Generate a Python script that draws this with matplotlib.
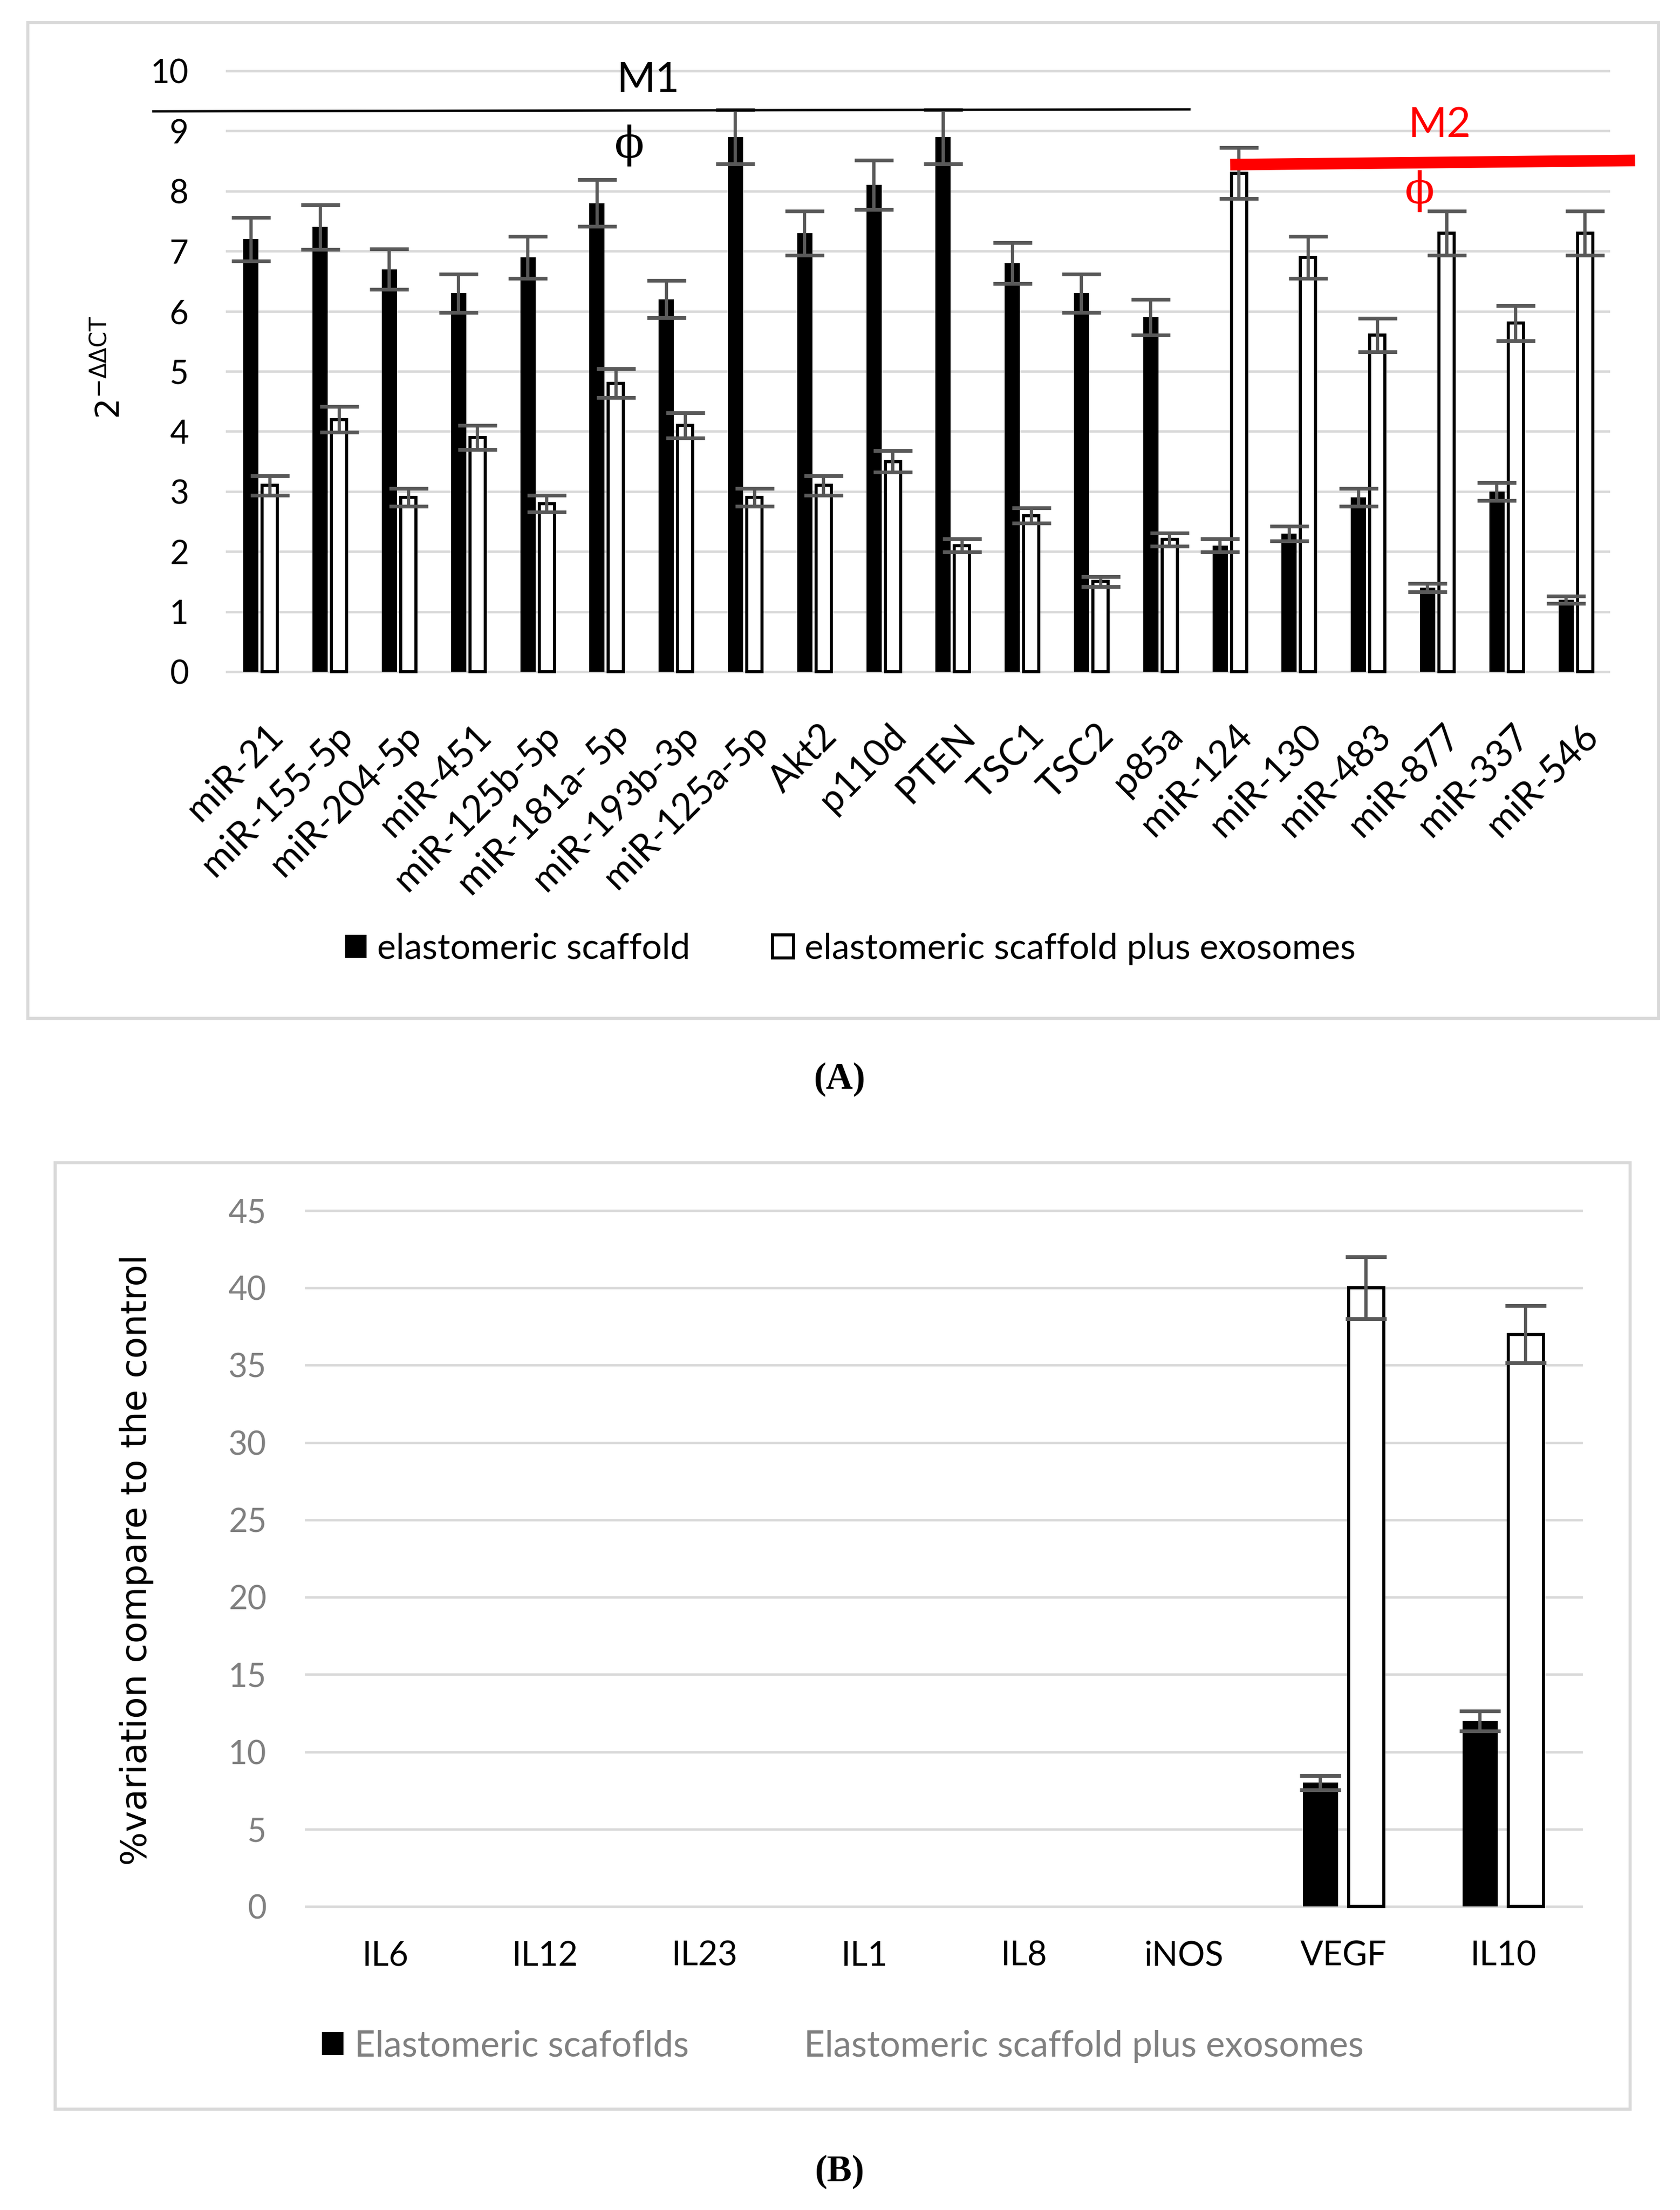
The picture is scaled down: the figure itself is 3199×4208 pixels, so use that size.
import matplotlib
matplotlib.use("Agg")
import matplotlib.pyplot as plt
import numpy as np
from matplotlib.patches import Patch, Rectangle
from matplotlib.transforms import ScaledTranslation

plt.rcParams['font.family'] = ['Lato', 'DejaVu Sans']

# ---------------- data: panel A ----------------
genes_a = ["miR-21", "miR-155-5p", "miR-204-5p", "miR-451", "miR-125b-5p", "miR-181a- 5p",
           "miR-193b-3p", "miR-125a-5p", "Akt2", "p110d", "PTEN", "TSC1", "TSC2", "p85a",
           "miR-124", "miR-130", "miR-483", "miR-877", "miR-337", "miR-546"]
scaffold_a = [7.2, 7.4, 6.7, 6.3, 6.9, 7.8, 6.2, 8.9, 7.3, 8.1, 8.9, 6.8, 6.3, 5.9,
              2.1, 2.3, 2.9, 1.4, 3.0, 1.2]
scaffold_a_err = [0.36, 0.37, 0.34, 0.32, 0.35, 0.39, 0.31, 0.45, 0.37, 0.41, 0.45, 0.34, 0.32, 0.30,
                  0.11, 0.12, 0.15, 0.07, 0.15, 0.06]
exo_a = [3.1, 4.2, 2.9, 3.9, 2.8, 4.8, 4.1, 2.9, 3.1, 3.5, 2.1, 2.6, 1.5, 2.2,
         8.3, 6.9, 5.6, 7.3, 5.8, 7.3]
exo_a_err = [0.16, 0.21, 0.15, 0.20, 0.14, 0.24, 0.21, 0.15, 0.16, 0.18, 0.11, 0.13, 0.08, 0.11,
             0.42, 0.35, 0.28, 0.37, 0.29, 0.37]
legend_a = ["elastomeric scaffold", "elastomeric scaffold plus exosomes"]

# ---------------- data: panel B ----------------
genes_b = ["IL6", "IL12", "IL23", "IL1", "IL8", "iNOS", "VEGF", "IL10"]
scaffold_b = [0, 0, 0, 0, 0, 0, 8.0, 12.0]
scaffold_b_err = [0, 0, 0, 0, 0, 0, 0.45, 0.65]
exo_b = [0, 0, 0, 0, 0, 0, 40.0, 37.0]
exo_b_err = [0, 0, 0, 0, 0, 0, 2.0, 1.85]
legend_b = ["Elastomeric scafoflds", "Elastomeric scaffold plus exosomes"]

W, H = 3199, 4208
fig = plt.figure(figsize=(W / 300, H / 300), dpi=300)

GRID = '#D9D9D9'
ERR = '#595959'

def fx(px):
    return px / W

def fy(py):
    return 1 - py / H

# frames
fig.add_artist(Rectangle((fx(53), fy(1939)), fx(3158) - fx(53), fy(43) - fy(1939),
                         transform=fig.transFigure, fill=False, ec=GRID, lw=1.4))
fig.add_artist(Rectangle((fx(105), fy(4016)), fx(3104) - fx(105), fy(2214) - fy(4016),
                         transform=fig.transFigure, fill=False, ec=GRID, lw=1.4))

# ---------------- panel A ----------------
axA = fig.add_axes([fx(430), fy(1290.4), fx(3066) - fx(430), fy(123.6) - fy(1290.4)])
x = np.arange(len(genes_a))
off, bw = 0.137, 0.22
err_kw = dict(ecolor=ERR, elinewidth=1.5, capsize=8.9, capthick=1.7)
axA.bar(x - off, scaffold_a, bw, color='black', yerr=scaffold_a_err, error_kw=err_kw, zorder=2)
axA.bar(x + off, exo_a, bw, color='white', edgecolor='black', linewidth=1.4,
        yerr=exo_a_err, error_kw=err_kw, zorder=2)
axA.set_xlim(-0.5, len(genes_a) - 0.5)
axA.set_ylim(-0.1, 10.1)
axA.set_yticks(range(0, 11))
axA.yaxis.grid(True, color=GRID, lw=1.1)
axA.set_axisbelow(True)
for s in axA.spines.values():
    s.set_visible(False)
axA.tick_params(axis='both', length=0)
axA.tick_params(axis='y', labelsize=15, pad=17, colors='black')
axA.set_xticks(x)
axA.set_xticklabels(genes_a, rotation=45, ha='right', va='center', rotation_mode='anchor', fontsize=17)
axA.tick_params(axis='x', pad=24)
shift = ScaledTranslation(7.7 / 72, 0, fig.dpi_scale_trans)
for lab in axA.get_xticklabels():
    lab.set_transform(lab.get_transform() + shift)

# M1 annotation
axA.plot([-1.547, 13.42], [9.327, 9.36], color='black', lw=1.1, clip_on=False, zorder=3)
axA.text(5.6, 9.84, "M1", ha='center', va='center', fontsize=19, color='black')
axA.text(5.33, 8.76, "ϕ", ha='center', va='center', fontsize=20, color='black', family=['DejaVu Serif'])
# M2 annotation
axA.plot([14.01, 19.86], [8.44, 8.51], color='#FF0000', lw=5.3, clip_on=False, zorder=3,
         solid_capstyle='butt')
axA.text(17.04, 9.09, "M2", ha='center', va='center', fontsize=19, color='#FF0000')
axA.text(16.75, 8.0, "ϕ", ha='center', va='center', fontsize=20, color='#FF0000', family=['DejaVu Serif'])

fig.text(fx(209), fy(700), r'$2^{-\Delta\Delta \mathrm{CT}}$', rotation=90, ha='center', va='center',
         fontsize=15, family=['DejaVu Sans'])

hA = [Patch(facecolor='black', edgecolor='black', lw=0),
      Patch(facecolor='white', edgecolor='black', lw=1.4)]
fig.legend(hA, legend_a, loc='center', bbox_to_anchor=(fx(1619), fy(1807)), ncol=2, frameon=False,
           fontsize=16.3, handlelength=0.6, handleheight=0.6, handletextpad=0.3, columnspacing=2.3)

fig.text(0.5, fy(2055), "(A)", ha='center', va='center', fontsize=17, fontweight='bold',
         family=['Liberation Serif'])

# ---------------- panel B ----------------
axB = fig.add_axes([fx(581), fy(3644.7), fx(3014) - fx(581), fy(2290.3) - fy(3644.7)])
xb = np.arange(len(genes_b))
offb = 0.143
err_kw_b = dict(ecolor=ERR, elinewidth=1.5, capsize=9.3, capthick=1.7)
lw_exo = [1.4 if v > 0 else 0 for v in exo_b]
yerr_s = np.array(scaffold_b_err)
yerr_e = np.array(exo_b_err)
mask_s = np.array(scaffold_b) > 0
mask_e = np.array(exo_b) > 0
axB.bar(xb - offb, scaffold_b, bw, color='black', linewidth=0, zorder=2)
axB.bar(xb + offb, exo_b, bw, color='white', edgecolor='black', linewidth=lw_exo, zorder=2)
axB.errorbar((xb - offb)[mask_s], np.array(scaffold_b)[mask_s], yerr=yerr_s[mask_s], fmt='none',
             zorder=3, **err_kw_b)
axB.errorbar((xb + offb)[mask_e], np.array(exo_b)[mask_e], yerr=yerr_e[mask_e], fmt='none',
             zorder=3, **err_kw_b)
axB.set_xlim(-0.5, len(genes_b) - 0.5)
axB.set_ylim(-0.5, 45.5)
axB.set_yticks(range(0, 46, 5))
axB.yaxis.grid(True, color=GRID, lw=1.1)
axB.set_axisbelow(True)
for s in axB.spines.values():
    s.set_visible(False)
axB.tick_params(axis='both', length=0)
axB.tick_params(axis='y', labelsize=15, pad=17.7, labelcolor='#808080')
axB.set_xticks(xb)
axB.set_xticklabels(genes_b, fontsize=15.5)
axB.tick_params(axis='x', pad=12)

fig.text(fx(260), fy(2970), "%variation compare to the control", rotation=90, ha='center', va='center',
         fontsize=16.3, family=['DejaVu Sans'])

hB = [Patch(facecolor='black', edgecolor='none', lw=0),
      Patch(facecolor='white', edgecolor='none', lw=0)]
legB = fig.legend(hB, legend_b, loc='center', bbox_to_anchor=(fx(1605), fy(3896)), ncol=2, frameon=False,
                  fontsize=16.5, handlelength=0.6, handleheight=0.6, handletextpad=0.3, columnspacing=2.3)
for t in legB.get_texts():
    t.set_color('#808080')

fig.text(0.5, fy(4135), "(B)", ha='center', va='center', fontsize=17, fontweight='bold',
         family=['Liberation Serif'])

fig.savefig("out.png", dpi=300)
